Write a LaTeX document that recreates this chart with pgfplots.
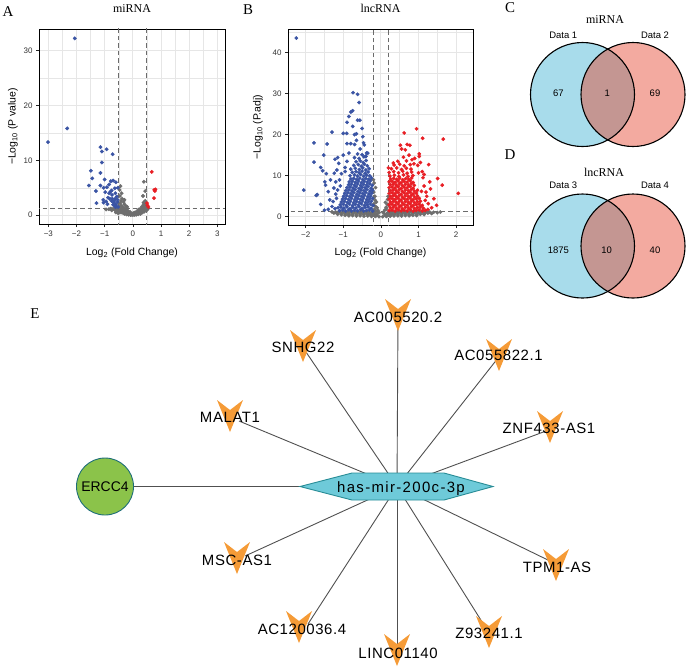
\documentclass[border=0pt]{standalone}
\usepackage{pgfplots}
\pgfplotsset{compat=1.18}
\usepackage{fontspec}
\setmainfont{Liberation Sans}
\newfontfamily\seriffont{Liberation Serif}
\newfontfamily\netfont[LetterSpace=4]{Liberation Sans}
\newfontfamily\hubfont[LetterSpace=9]{Liberation Sans}
\definecolor{vblue}{RGB}{58,84,164}
\definecolor{vred}{RGB}{232,30,36}
\definecolor{vgray}{RGB}{110,110,110}
\definecolor{gridc}{RGB}{230,230,230}
\definecolor{vennblue}{RGB}{168,220,235}
\definecolor{vennred}{RGB}{243,170,160}
\definecolor{vennmix}{RGB}{196,150,146}
\definecolor{orangeV}{RGB}{245,155,55}
\definecolor{hubc}{RGB}{110,202,217}
\definecolor{hubedge}{RGB}{40,140,150}
\definecolor{greenc}{RGB}{139,195,74}
\definecolor{greenedge}{RGB}{30,110,120}
\definecolor{edgec}{RGB}{80,80,80}

\pgfdeclareplotmark{chev}{%
  \pgfpathmoveto{\pgfqpoint{-13bp}{16bp}}%
  \pgfpathlineto{\pgfqpoint{0bp}{6bp}}%
  \pgfpathlineto{\pgfqpoint{13bp}{16bp}}%
  \pgfpathlineto{\pgfqpoint{0bp}{-16bp}}%
  \pgfpathclose
  \pgfusepathqfill}
\pgfdeclareplotmark{hexa}{%
  \pgfpathmoveto{\pgfqpoint{-97bp}{0bp}}%
  \pgfpathlineto{\pgfqpoint{-45bp}{13.5bp}}%
  \pgfpathlineto{\pgfqpoint{47bp}{13.5bp}}%
  \pgfpathlineto{\pgfqpoint{96bp}{0bp}}%
  \pgfpathlineto{\pgfqpoint{47bp}{-13.5bp}}%
  \pgfpathlineto{\pgfqpoint{-45bp}{-13.5bp}}%
  \pgfpathclose
  \pgfusepathqfillstroke}

\pgfplotsset{
  volc/.style={
    anchor=south west, scale only axis,
    /pgf/number format/assume math mode=true,
    grid=both,
    major grid style={gridc, line width=0.8bp},
    minor grid style={gridc, line width=0.45bp},
    axis line style={black, line width=0.9bp},
    tick align=outside, tick pos=left,
    major tick length=3bp, minor tick length=0pt,
    tick style={black!85, line width=0.6bp},
    ticklabel style={font=\fontsize{8}{9}\selectfont, text=black!80},
    label style={font=\fontsize{10.5}{12}\selectfont},
    title style={font=\seriffont\fontsize{12}{14}\selectfont, anchor=center},
    clip=true,
  },
  dpt/.style={only marks, mark=*, mark size=1.75bp},
  thr/.style={dash pattern=on 4.5bp off 3bp, black!58, line width=0.9bp},
  overlay/.style={at={(0bp,0bp)}, anchor=north west, width=686bp, height=669bp, scale only axis,
    xmin=0, xmax=686, ymin=0, ymax=669, y dir=reverse, hide axis, clip=false},
}

\begin{document}
\begin{tikzpicture}
\useasboundingbox (0,0) rectangle (686bp,-669bp);

% ---------------- A ----------------
\begin{axis}[volc, at={(39bp,-224bp)}, width=186bp, height=195bp,
  xmin=-3.33, xmax=3.27, ymin=-1.6, ymax=33.9,
  xtick={-3,-2,-1,0,1,2,3}, xticklabels={−3,−2,−1,0,1,2,3},
  minor xtick={-2.5,-1.5,-0.5,0.5,1.5,2.5},
  ytick={0,10,20,30}, minor ytick={5,15,25},
  title={miRNA}, title style={at={(axis description cs:0.5,1.072)}},
  xlabel={Log\textsubscript{2} (Fold Change)},
  xlabel style={at={(axis description cs:0.5,-0.162)}, anchor=base},
  ylabel={−Log\textsubscript{10} (P value)},
  ylabel style={at={(axis description cs:-0.14,0.5)}, anchor=center},
]
\addplot[dpt, color=vgray] coordinates {
(-0.3,0.25)(-0.22,0.15)(-0.15,0.1)(-0.08,0.05)(0,0.03)(0.07,0.06)(0.13,0.12)(0.2,0.18)(0.27,0.25)(-0.12,0.2)(0.04,0.15)(-0.04,0.12)(0.1,0.2)
(-0.45,0.5)(-0.38,0.45)(-0.32,0.4)(-0.26,0.35)(-0.2,0.3)(-0.15,0.4)(0.15,0.35)(0.22,0.4)(0.28,0.45)(0.34,0.5)(-0.4,0.6)(-0.3,0.55)(0.25,0.55)(0.0,0.3)(-0.08,0.35)(0.08,0.35)
(-0.6,0.8)(-0.55,0.7)(-0.5,0.9)(-0.44,0.75)(-0.38,0.85)(-0.33,0.7)(-0.27,0.8)(-0.22,0.65)(-0.17,0.75)(0.18,0.7)(0.24,0.8)(0.3,0.75)(0.36,0.85)(0.41,0.9)(-0.65,1.0)(-0.48,1.0)(0.32,1.0)(0.44,1.0)
(-0.95,1.05)(-0.85,1.1)(-0.78,1.2)(-0.7,1.15)(-0.62,1.25)(-0.56,1.1)(-0.5,1.3)(-0.45,1.2)(-0.4,1.1)(-0.35,1.3)(-0.3,1.15)(-0.25,1.05)(0.25,1.1)(0.3,1.25)(0.35,1.2)(0.4,1.35)(0.45,1.15)(0.5,1.3)(0.52,1.05)
(-0.48,1.6)(-0.42,1.8)(-0.36,1.5)(-0.3,2.0)(-0.25,1.7)(-0.45,2.2)(0.33,1.6)(0.38,1.9)(0.43,2.1)(0.47,1.7)(0.4,1.5)(-0.2,1.5)
(-0.42,2.6)(-0.38,3.0)(-0.33,2.4)(-0.46,3.5)(-0.4,4.0)(-0.47,4.6)(-0.3,2.8)(0.36,3.5)(0.44,2.6)(0.44,4.4)(0.39,6.1)(0.38,2.3)(-0.44,5.3)
(-0.2,0.9)(-0.1,0.6)(0.05,0.45)(0.12,0.6)(0.2,1.0)(-0.6,0.5)(-0.75,0.9)(-0.52,0.35)(0.4,0.65)(0.48,0.85)
};
\addplot[dpt, color=vblue] coordinates {
(-3.01,13.3)(-2.06,32.2)(-2.33,15.8)(-1.15,12.4)(-1.1,11.6)(-0.93,12.0)(-0.72,11.1)(-1.1,9.6)(-1.49,8.1)(-1.15,7.7)(-1.44,6.7)(-1.56,5.4)(-1.31,4.4)(-1.29,2.2)(-1.15,5.4)(-1.0,6.5)(-0.98,4.2)(-1.04,5.0)(-0.92,5.1)(-0.84,5.6)(-0.78,6.2)(-0.84,4.0)(-0.79,4.3)(-0.75,4.5)(-0.7,6.3)(-0.82,3.0)(-0.88,3.2)(-0.73,3.0)(-0.66,2.6)(-1.05,2.8)(-1.04,2.3)(-0.64,4.9)(-0.62,4.0)(-0.74,3.7)(-0.63,3.0)(-0.68,2.3)(-0.75,2.6)(-0.66,1.8)(-0.6,2.0)(-0.58,1.6)(-0.55,2.4)(-0.57,3.4)(-0.53,5.0)(-0.6,6.0)(-0.95,2.5)(-0.9,2.0)(-0.52,1.5)(-0.54,2.8)(-0.62,1.5)(-0.7,1.9)
};
\addplot[dpt, color=vred] coordinates {
(0.67,7.9)(0.78,4.4)(0.8,4.7)(0.76,4.6)(0.75,3.1)(0.5,2.2)(0.52,1.8)(0.55,1.5)
};
\addplot[thr] coordinates {(-0.5,-5)(-0.5,40)};
\addplot[thr] coordinates {(0.5,-5)(0.5,40)};
\addplot[thr] coordinates {(-4,1.3)(4,1.3)};
\end{axis}

% ---------------- B ----------------
\begin{axis}[volc, at={(288bp,-225bp)}, width=185bp, height=196bp,
  xmin=-2.47, xmax=2.45, ymin=-2.0, ymax=45.7,
  xtick={-2,-1,0,1,2}, xticklabels={−2,−1,0,1,2},
  minor xtick={-1.5,-0.5,0.5,1.5},
  ytick={0,10,20,30,40}, minor ytick={5,15,25,35,45},
  title={lncRNA}, title style={at={(axis description cs:0.5,1.072)}},
  xlabel={Log\textsubscript{2} (Fold Change)},
  xlabel style={at={(axis description cs:0.5,-0.156)}, anchor=base},
  ylabel={−Log\textsubscript{10} (P.adj)},
  ylabel style={at={(axis description cs:-0.162,0.5)}, anchor=center},
]
\addplot[dpt, color=vgray, mark size=1.7bp] coordinates {
(-0.95,0.35)(-0.85,0.25)(-0.75,0.3)(-0.65,0.2)(-0.55,0.25)(-0.45,0.15)(-0.35,0.2)(-0.25,0.1)(-0.15,0.08)(-0.05,0.05)(0.05,0.05)(0.15,0.1)(0.25,0.15)(0.35,0.2)(0.45,0.25)(0.55,0.2)(0.65,0.3)(0.75,0.25)(0.85,0.35)(0.95,0.3)
(-1.15,0.6)(-1.05,0.5)(-0.95,0.65)(-0.85,0.55)(-0.75,0.6)(-0.65,0.5)(-0.55,0.6)(-0.45,0.55)(-0.35,0.5)(-0.28,0.45)(-0.2,0.4)(-0.12,0.3)(0.12,0.3)(0.2,0.4)(0.28,0.5)(0.35,0.55)(0.45,0.6)(0.55,0.5)(0.65,0.6)(0.75,0.55)(0.85,0.65)(0.95,0.5)(1.05,0.6)(1.15,0.55)
(-1.25,0.9)(-1.15,0.95)(-1.05,0.85)(-0.95,0.95)(-0.85,0.9)(-0.75,0.85)(-0.65,0.95)(-0.55,0.9)(-0.45,0.85)(-0.37,0.95)(-0.3,0.8)(-0.22,0.75)(-0.16,0.6)(0.16,0.6)(0.22,0.75)(0.3,0.85)(0.38,0.9)(0.46,0.95)(0.55,0.85)(0.65,0.9)(0.75,0.95)(0.85,0.85)(0.95,0.9)(1.05,0.95)(1.15,0.85)(1.25,0.9)(1.35,0.8)
(-1.3,1.2)(-1.2,1.15)(-1.1,1.25)(-1.0,1.2)(-0.9,1.15)(-0.8,1.25)(-0.7,1.2)(-0.6,1.15)(-0.5,1.25)(-0.4,1.2)(-0.32,1.15)(-0.24,1.1)(-0.18,1.0)(0.18,1.0)(0.24,1.1)(0.32,1.2)(0.4,1.15)(0.5,1.25)(0.6,1.2)(0.7,1.15)(0.8,1.25)(0.9,1.2)(1.0,1.15)(1.1,1.25)(1.2,1.2)(1.3,1.15)(1.4,1.1)(1.5,1.0)(1.58,1.15)
(-0.17,1.8)(-0.14,2.5)(-0.18,3.2)(-0.15,4.0)(-0.12,3.6)(-0.16,5.0)(-0.19,6.0)(-0.14,7.1)(-0.18,8.2)(-0.1,2.2)(-0.08,1.6)(-0.05,1.0)(0.06,1.0)(0.1,1.6)(0.14,2.3)(0.17,3.0)(0.12,3.5)(0.18,4.2)(0.15,1.9)(-0.2,2.8)(-0.19,4.6)(-0.13,1.3)(0.1,0.7)(-0.1,0.7)(0.19,5.0)(-0.2,9.0)
};
\addplot[dpt, color=vblue, mark size=1.7bp] coordinates {
(-1.10,1.5)(-1.02,1.65)(-0.94,1.4)(-0.86,1.7)(-0.78,1.45)(-0.70,1.6)(-0.62,1.45)(-0.54,1.75)(-0.46,1.4)(-0.38,1.55)(-0.30,1.68)(-0.22,1.42)
(-1.14,2.2)(-1.06,2.35)(-0.98,2.1)(-0.90,2.4)(-0.82,2.0)(-0.74,2.3)(-0.66,2.15)(-0.58,2.45)(-0.50,2.05)(-0.42,2.25)(-0.34,2.38)(-0.26,2.08)
(-1.08,2.9)(-1.00,3.05)(-0.92,2.8)(-0.84,3.1)(-0.76,2.7)(-0.68,3.0)(-0.60,2.85)(-0.52,3.15)(-0.44,2.75)(-0.36,2.95)(-0.28,3.08)(-0.21,2.78)
(-1.05,3.6)(-0.97,3.75)(-0.89,3.5)(-0.81,3.8)(-0.73,3.4)(-0.65,3.7)(-0.57,3.55)(-0.49,3.85)(-0.41,3.45)(-0.33,3.65)(-0.25,3.78)
(-1.02,4.3)(-0.94,4.45)(-0.86,4.2)(-0.78,4.5)(-0.70,4.1)(-0.62,4.4)(-0.54,4.25)(-0.46,4.55)(-0.38,4.15)(-0.30,4.35)(-0.22,4.48)
(-0.99,5.0)(-0.91,5.15)(-0.83,4.9)(-0.75,5.2)(-0.67,4.8)(-0.59,5.1)(-0.51,4.95)(-0.43,5.25)(-0.35,4.85)(-0.27,5.05)
(-0.96,5.7)(-0.88,5.85)(-0.80,5.6)(-0.72,5.9)(-0.64,5.5)(-0.56,5.8)(-0.48,5.65)(-0.40,5.95)(-0.32,5.55)(-0.24,5.75)
(-0.93,6.4)(-0.85,6.55)(-0.77,6.3)(-0.69,6.6)(-0.61,6.2)(-0.53,6.5)(-0.45,6.35)(-0.37,6.65)(-0.29,6.25)(-0.22,6.45)
(-0.90,7.1)(-0.82,7.25)(-0.74,7.0)(-0.66,7.3)(-0.58,6.9)(-0.50,7.2)(-0.42,7.05)(-0.34,7.35)(-0.26,6.95)
(-0.86,7.8)(-0.78,7.95)(-0.70,7.7)(-0.62,8.0)(-0.54,7.6)(-0.46,7.9)(-0.38,7.75)(-0.30,8.05)(-0.23,7.65)
(-0.84,8.5)(-0.76,8.65)(-0.68,8.4)(-0.60,8.7)(-0.52,8.3)(-0.44,8.6)(-0.36,8.45)(-0.28,8.75)
(-0.80,9.2)(-0.72,9.35)(-0.64,9.1)(-0.56,9.4)(-0.48,9.0)(-0.40,9.3)(-0.32,9.15)(-0.25,9.45)
(-0.82,10.0)(-0.70,10.2)(-0.62,9.9)(-0.54,10.3)(-0.46,9.85)(-0.38,10.1)(-0.30,10.0)
(-0.76,10.8)(-0.66,11.0)(-0.58,10.7)(-0.50,11.1)(-0.42,10.6)(-0.34,10.9)
(-0.80,11.6)(-0.68,11.8)(-0.57,11.5)(-0.48,11.9)(-0.40,11.4)(-0.31,11.7)
(-0.72,12.5)(-0.60,12.7)(-0.52,12.3)(-0.44,12.8)(-0.36,12.4)
(-0.66,13.4)(-0.55,13.6)(-0.47,13.2)(-0.39,13.7)
(-0.70,14.4)(-0.58,14.2)(-0.45,14.6)(-0.40,14.7)
(-0.62,15.3)(-0.50,15.1)(-0.38,15.5)
(-2.25,43.5)(-2.05,6.5)(-1.78,18)(-1.78,13.3)(-1.72,5.2)(-1.69,5.4)(-1.52,15)(-1.43,17.7)(-1.3,20.6)(-1.22,14)(-1.15,14.4)(-1.0,20.3)(-0.91,20.3)(-0.74,30.2)(-0.62,29.8)(-0.58,27.8)(-0.75,25.8)(-0.8,25.5)(-0.85,24.4)(-0.9,23)(-0.62,23.5)(-0.56,23.5)(-0.65,20.2)(-0.7,20.0)(-0.9,17.8)(-0.8,17.8)(-0.7,17.6)(-0.46,18)(-0.44,17.5)(-0.65,18.6)(-0.35,15.5)(-0.4,14.7)
(-1.49,8.5)(-1.47,7.7)(-1.4,6.1)(-1.36,4.1)(-1.27,3.7)(-1.34,9.0)(-1.24,10.6)(-1.17,11.4)(-1.12,13.0)(-1.6,12.0)(-1.55,11.2)(-1.45,10.5)(-1.2,8.5)(-1.25,7.0)(-1.15,6.5)(-1.2,5.5)(-1.3,2.5)(-1.22,2.0)(-1.4,1.8)(-1.18,4.5)(-1.1,9.0)(-1.05,10.5)(-0.95,12.0)(-0.9,13.5)(-0.85,15.5)(-1.0,15.0)(-0.95,11.0)(-1.08,7.5)(-1.5,1.6)(-1.6,3.0)(-0.55,16.5)(-0.5,21.5)(-0.75,22.0)(-0.48,19.5)
};
\addplot[dpt, color=vred, mark size=1.7bp] coordinates {
(0.22,1.5)(0.30,1.65)(0.38,1.4)(0.46,1.7)(0.54,1.45)(0.62,1.6)(0.70,1.45)(0.78,1.75)(0.86,1.4)(0.94,1.55)(1.02,1.68)(1.10,1.42)(1.18,1.55)
(0.25,2.2)(0.33,2.35)(0.41,2.1)(0.49,2.4)(0.57,2.0)(0.65,2.3)(0.73,2.15)(0.81,2.45)(0.89,2.05)(0.97,2.25)(1.05,2.38)(1.13,2.08)
(0.22,2.9)(0.30,3.05)(0.38,2.8)(0.46,3.1)(0.54,2.7)(0.62,3.0)(0.70,2.85)(0.78,3.15)(0.86,2.75)(0.94,2.95)(1.02,3.08)(1.10,2.78)
(0.25,3.6)(0.33,3.75)(0.41,3.5)(0.49,3.8)(0.57,3.4)(0.65,3.7)(0.73,3.55)(0.81,3.85)(0.89,3.45)(0.97,3.65)(1.05,3.78)
(0.22,4.3)(0.30,4.45)(0.38,4.2)(0.46,4.5)(0.54,4.1)(0.62,4.4)(0.70,4.25)(0.78,4.55)(0.86,4.15)(0.94,4.35)(1.02,4.48)
(0.25,5.0)(0.33,5.15)(0.41,4.9)(0.49,5.2)(0.57,4.8)(0.65,5.1)(0.73,4.95)(0.81,5.25)(0.89,4.85)(0.97,5.05)
(0.22,5.7)(0.30,5.85)(0.38,5.6)(0.46,5.9)(0.54,5.5)(0.62,5.8)(0.70,5.65)(0.78,5.95)(0.86,5.55)(0.94,5.75)
(0.25,6.4)(0.33,6.55)(0.41,6.3)(0.49,6.6)(0.57,6.2)(0.65,6.5)(0.73,6.35)(0.81,6.65)(0.89,6.25)(0.97,6.45)
(0.22,7.1)(0.30,7.25)(0.38,7.0)(0.46,7.3)(0.54,6.9)(0.62,7.2)(0.70,7.05)(0.78,7.35)(0.86,6.95)
(0.25,7.8)(0.33,7.95)(0.41,7.7)(0.49,8.0)(0.57,7.6)(0.65,7.9)(0.73,7.75)(0.81,8.05)(0.89,7.65)
(0.22,8.5)(0.30,8.65)(0.38,8.4)(0.46,8.7)(0.54,8.3)(0.62,8.6)(0.70,8.45)(0.78,8.75)(0.86,8.35)
(0.26,9.2)(0.34,9.35)(0.42,9.1)(0.50,9.4)(0.58,9.0)(0.66,9.3)(0.74,9.15)(0.82,9.45)
(0.24,9.9)(0.36,10.1)(0.48,9.8)(0.60,10.2)(0.72,9.85)(0.85,10.05)
(0.22,10.8)(0.34,11.0)(0.47,10.7)(0.58,11.1)(0.70,10.6)(0.82,10.9)
(0.28,11.7)(0.42,11.9)(0.55,11.5)(0.68,11.8)(0.80,11.6)
(0.35,12.6)(0.50,12.8)(0.62,12.4)(0.78,12.7)(0.88,12.9)
(0.45,13.5)(0.68,13.6)(0.83,13.9)
(2.06,5.7)(1.66,18.9)(1.11,19.1)(0.95,21.4)(0.62,20.4)(1.02,15.3)(0.52,17.4)(0.77,17.4)(0.7,17.6)(0.55,16.5)(0.65,16.3)(1.27,12.7)(1.51,9.3)(1.63,7.7)(1.41,4.4)(1.48,2.8)(1.26,3.2)(1.2,6.0)(1.3,8.5)(1.1,11.0)(0.98,12.5)(1.05,13.2)(1.15,7.5)(1.22,5.0)(1.25,1.8)(1.35,2.2)(1.12,9.5)(1.0,10.7)(1.02,14.7)(0.6,14.5)(0.75,15.0)(0.9,14.2)(1.18,4.0)(1.08,6.2)(0.33,13.1)(0.2,11.9)(1.32,6.8)(1.15,10.3)
};
\addplot[thr] coordinates {(-0.2,-5)(-0.2,50)};
\addplot[thr] coordinates {(0.2,-5)(0.2,50)};
\addplot[thr] coordinates {(-3,1.3)(3,1.3)};
\end{axis}

% ---------------- overlay 1: Venn shapes and network graphics ----------------
\begin{axis}[overlay]
% Venn C
\fill[vennblue] (axis cs:582.5,94.5) circle[radius=52];
\fill[vennred] (axis cs:633,94.5) circle[radius=52];
\begin{scope}
\clip (axis cs:582.5,94.5) circle[radius=52];
\fill[vennmix] (axis cs:633,94.5) circle[radius=52];
\end{scope}
\draw[black, line width=1.1bp] (axis cs:582.5,94.5) circle[radius=52];
\draw[black, line width=1.1bp] (axis cs:633,94.5) circle[radius=52];
% Venn D
\fill[vennblue] (axis cs:582.5,246) circle[radius=52];
\fill[vennred] (axis cs:633,246) circle[radius=52];
\begin{scope}
\clip (axis cs:582.5,246) circle[radius=52];
\fill[vennmix] (axis cs:633,246) circle[radius=52];
\end{scope}
\draw[black, line width=1.1bp] (axis cs:582.5,246) circle[radius=52];
\draw[black, line width=1.1bp] (axis cs:633,246) circle[radius=52];

% network edges
\addplot[edgec, line width=0.9bp] coordinates {(105,486.5)(397,486.5)};
\addplot[edgec, line width=0.9bp] coordinates {(397,486.5)(398,315)};
\addplot[edgec, line width=0.9bp] coordinates {(397,486.5)(306,352)};
\addplot[edgec, line width=0.9bp] coordinates {(397,486.5)(498,358)};
\addplot[edgec, line width=0.9bp] coordinates {(397,486.5)(239,421)};
\addplot[edgec, line width=0.9bp] coordinates {(397,486.5)(546,431)};
\addplot[edgec, line width=0.9bp] coordinates {(397,486.5)(245,556)};
\addplot[edgec, line width=0.9bp] coordinates {(397,486.5)(550,561)};
\addplot[edgec, line width=0.9bp] coordinates {(397,486.5)(308,624)};
\addplot[edgec, line width=0.9bp] coordinates {(397,486.5)(484,625)};
\addplot[edgec, line width=0.9bp] coordinates {(397,486.5)(397,648)};
% nodes
\addplot[only marks, mark=chev, color=orangeV] coordinates {
(398,315)(303,346)(499,355)(230,416)(550,427)(237,558)(556,565)(299,627)(489,632)(397,650)};
\addplot[only marks, mark=hexa, mark options={fill=hubc, draw=hubedge, line width=0.9bp}] coordinates {(397,486.5)};
\addplot[only marks, mark=*, mark size=28.5bp, mark options={fill=greenc, draw=greenedge, line width=0.9bp}] coordinates {(105,486.5)};
\end{axis}

% ---------------- overlay 2: all texts on top ----------------
\begin{axis}[overlay]
\begin{scope}[every node/.style={font=\netfont\fontsize{15}{15}\selectfont, anchor=center, inner sep=0pt}]
\node at (axis cs:398,317) {AC005520.2};
\node at (axis cs:303,347) {SNHG22};
\node at (axis cs:498.5,355) {AC055822.1};
\node at (axis cs:230,417) {MALAT1};
\node at (axis cs:549,428) {ZNF433-AS1};
\node at (axis cs:237,560) {MSC-AS1};
\node at (axis cs:557,567) {TPM1-AS};
\node at (axis cs:302,629) {AC120036.4};
\node at (axis cs:489,633) {Z93241.1};
\node at (axis cs:398,653) {LINC01140};
\end{scope}
\node[font=\fontsize{14}{14}\selectfont, anchor=center, inner sep=0pt] at (axis cs:105,486.5) {ERCC4};
\node[font=\hubfont\fontsize{15}{15}\selectfont, anchor=base, inner sep=0pt] at (axis cs:401,492.5) {has-mir-200c-3p};

\begin{scope}[every node/.style={font=\fontsize{9.5}{10}\selectfont, anchor=center, inner sep=0pt}]
\node at (axis cs:563.3,35) {Data 1};
\node at (axis cs:655,35) {Data 2};
\node at (axis cs:558.3,93) {67};
\node at (axis cs:607.3,93) {1};
\node at (axis cs:655,93) {69};
\node at (axis cs:563.3,185) {Data 3};
\node at (axis cs:655,185) {Data 4};
\node at (axis cs:558.3,250) {1875};
\node at (axis cs:606.7,250) {10};
\node at (axis cs:655,250) {40};
\end{scope}
\node[font=\seriffont\fontsize{12}{14}\selectfont, anchor=center, inner sep=0pt] at (axis cs:605,20) {miRNA};
\node[font=\seriffont\fontsize{12}{14}\selectfont, anchor=center, inner sep=0pt] at (axis cs:604,172) {lncRNA};

\begin{scope}[every node/.style={font=\seriffont\fontsize{15}{15}\selectfont, anchor=center, inner sep=0pt}]
\node at (axis cs:8,12) {A};
\node at (axis cs:248,10) {B};
\node at (axis cs:510,8) {C};
\node at (axis cs:510,155) {D};
\node at (axis cs:35,314) {E};
\end{scope}
\end{axis}
\end{tikzpicture}
\end{document}
